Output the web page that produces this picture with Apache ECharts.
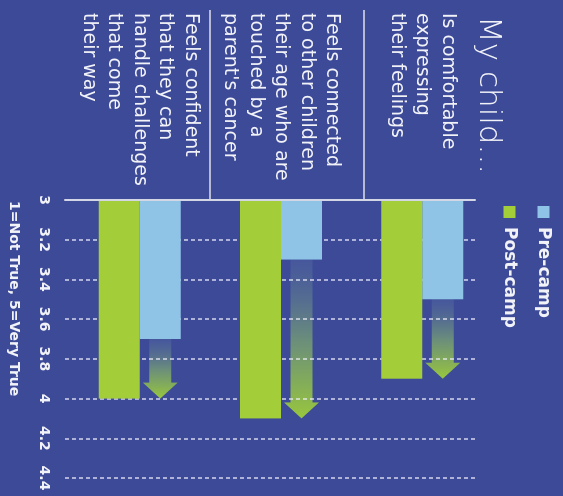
<!DOCTYPE html>
<html><head><meta charset="utf-8">
<script src="https://cdn.jsdelivr.net/npm/echarts@6/dist/echarts.min.js"></script>
<style>
html,body{margin:0;padding:0;background:#3c4a98;overflow:hidden;width:563px;height:496px}
#wrap{position:absolute;left:0;top:0;width:496px;height:563px;transform-origin:0 0;transform:translate(563px,0) rotate(90deg);}
</style></head><body><div id="wrap"></div>
<script>
const categories = [
  "Is comfortable\nexpressing\ntheir feelings",
  "Feels connected\nto other children\ntheir age who are\ntouched by a\nparent's cancer",
  "Feels confident\nthat they can\nhandle challenges\nthat come\ntheir way"
];
const seriesNames = ["Pre-camp", "Post-camp"];
const preCamp = [3.5, 3.3, 3.7];
const postCamp = [3.9, 4.1, 4.0];
const tickLabels = ["3", "3.2", "3.4", "3.6", "3.8", "4", "4.2", "4.4"];
const titleText = "My child...";
const scaleNote = "1=Not True, 5=Very True";

const BLUE = '#8fc4e7', GREEN = '#a4cd3a', TXT = '#f2f3f8';
const FONT = '"DejaVu Sans", sans-serif';
const BAR_W = 41;
const arrowData = categories.map((c, i) => [i, preCamp[i], postCamp[i]]);

const chart = echarts.init(document.getElementById('wrap'), null, {renderer: 'canvas'});
chart.setOption({
  backgroundColor: '#3c4a98',
  animation: false,
  title: [
    {text: titleText, left: 11, top: 54,
     textStyle: {color: TXT, fontSize: 31, fontWeight: 200, fontFamily: FONT}},
    {text: scaleNote, left: 196, top: 537,
     textStyle: {color: TXT, fontSize: 14, fontWeight: 'bold', fontFamily: FONT}}
  ],
  legend: {
    data: seriesNames, orient: 'vertical', left: 201, top: 6,
    itemWidth: 12, itemHeight: 12, itemGap: 17, icon: 'rect',
    textStyle: {color: TXT, fontSize: 17, fontWeight: 'bold', fontFamily: FONT, padding: [0, 0, 0, 4]}
  },
  grid: [
    {left: 200, right: 18, top: 70, bottom: 69},
    {left: 200, right: 18, top: 88, bottom: 65}
  ],
  xAxis: [
    {gridIndex: 0, type: 'value', min: 3, max: 4.4, interval: 0.2, show: false},
    {gridIndex: 1, type: 'value', min: 3, max: 4.4, interval: 0.2, z: 2.5,
     axisLine: {show: false}, axisTick: {show: false},
     axisLabel: {color: TXT, fontSize: 14, fontWeight: 'bold', fontFamily: FONT, margin: 14,
       formatter: v => tickLabels[Math.round((v - 3) / 0.2)]},
     splitLine: {show: true, lineStyle: {color: 'rgba(240,240,250,0.85)', width: 1.5, type: [4, 3]}}}
  ],
  yAxis: [
    {gridIndex: 0, type: 'category', data: categories, inverse: true,
     axisLine: {show: false}, axisTick: {show: false},
     axisLabel: {color: TXT, fontSize: 19, lineHeight: 25.5, fontFamily: FONT, interval: 0,
       hideOverlap: false, align: 'left', margin: 187, padding: [24, 0, 0, 0]}},
    {gridIndex: 1, type: 'value', min: 0, max: 1, show: true, z: 4,
     axisLine: {show: true, onZero: false, lineStyle: {color: '#d3d6e4', width: 2}},
     axisLabel: {show: false}, axisTick: {show: false}, splitLine: {show: false}}
  ],
  series: [
    {name: seriesNames[0], type: 'bar', xAxisIndex: 0, yAxisIndex: 0, data: preCamp,
     barWidth: BAR_W, barGap: '0%', itemStyle: {color: BLUE}, z: 3},
    {name: seriesNames[1], type: 'bar', xAxisIndex: 0, yAxisIndex: 0, data: postCamp,
     barWidth: BAR_W, barGap: '0%', itemStyle: {color: GREEN}, z: 3},
    {type: 'custom', xAxisIndex: 0, yAxisIndex: 0, data: arrowData, z: 2,
     renderItem: (params, api) => {
       const i = api.value(0);
       const p0 = api.coord([api.value(1), i]);
       const p1 = api.coord([api.value(2), i]);
       const yc = p0[1] - BAR_W / 2;
       const x0 = p0[0], x1 = p1[0], xh = x1 - 16, bh = 11, hh = 17.5;
       return {
         type: 'polygon',
         shape: {points: [[x0, yc - bh], [xh, yc - bh], [xh, yc - hh], [x1, yc], [xh, yc + hh], [xh, yc + bh], [x0, yc + bh]]},
         style: {fill: new echarts.graphic.LinearGradient(0, 0, 1, 0, [
           {offset: 0, color: 'rgba(80,100,160,0.5)'},
           {offset: 0.5, color: '#6a8d7c'},
           {offset: 1, color: '#98c63e'}])}
       };
     }}
  ],
  graphic: [
    {type: 'line', shape: {x1: 10, y1: 199, x2: 200, y2: 199}, style: {stroke: '#dfe1ec', lineWidth: 1.5}},
    {type: 'line', shape: {x1: 10, y1: 353, x2: 200, y2: 353}, style: {stroke: '#dfe1ec', lineWidth: 1.5}}
  ]
});
</script></body></html>
